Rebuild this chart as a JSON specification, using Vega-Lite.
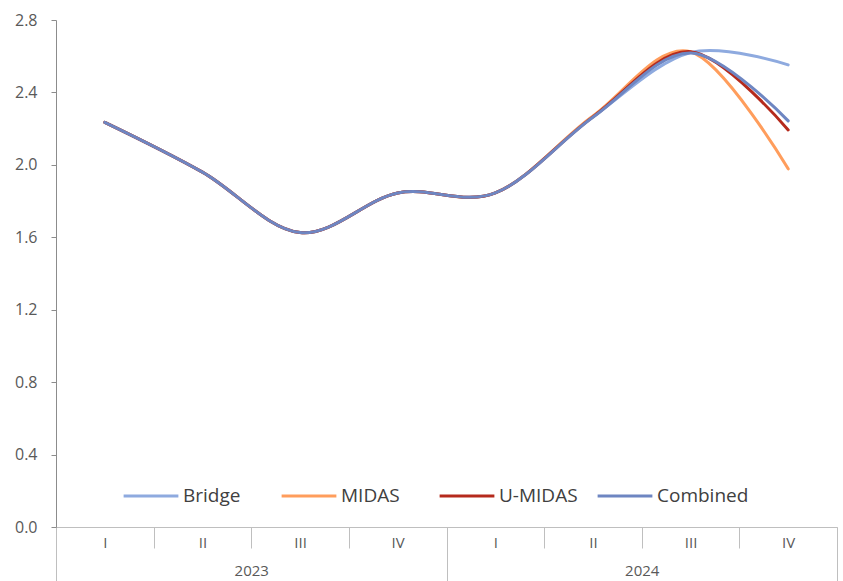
{
  "$schema": "https://vega.github.io/schema/vega-lite/v6.json",
  "autosize": {"type": "none"},
  "width": 781,
  "height": 507,
  "padding": {"left": 56, "top": 20, "right": 6, "bottom": 54},
  "background": "white",
  "config": {
    "view": {"stroke": null},
    "font": "Open Sans",
    "axis": {"labelFont": "Open Sans", "labelColor": "#595959", "labelFontSize": 15, "domainColor": "#8c8c8c", "tickColor": "#8c8c8c", "grid": false, "title": null}
  },
  "data": {
    "values": [
      {"t": 0.5, "series": "Bridge", "value": 2.235},
      {"t": 1.5, "series": "Bridge", "value": 1.96},
      {"t": 2.5, "series": "Bridge", "value": 1.626},
      {"t": 3.5, "series": "Bridge", "value": 1.845},
      {"t": 4.5, "series": "Bridge", "value": 1.845},
      {"t": 5.5, "series": "Bridge", "value": 2.265},
      {"t": 6.5, "series": "Bridge", "value": 2.62},
      {"t": 7.5, "series": "Bridge", "value": 2.552},
      {"t": 0.5, "series": "MIDAS", "value": 2.235},
      {"t": 1.5, "series": "MIDAS", "value": 1.96},
      {"t": 2.5, "series": "MIDAS", "value": 1.626},
      {"t": 3.5, "series": "MIDAS", "value": 1.845},
      {"t": 4.5, "series": "MIDAS", "value": 1.845},
      {"t": 5.5, "series": "MIDAS", "value": 2.27},
      {"t": 6.5, "series": "MIDAS", "value": 2.625},
      {"t": 7.5, "series": "MIDAS", "value": 1.978},
      {"t": 0.5, "series": "U-MIDAS", "value": 2.235},
      {"t": 1.5, "series": "U-MIDAS", "value": 1.96},
      {"t": 2.5, "series": "U-MIDAS", "value": 1.626},
      {"t": 3.5, "series": "U-MIDAS", "value": 1.845},
      {"t": 4.5, "series": "U-MIDAS", "value": 1.845},
      {"t": 5.5, "series": "U-MIDAS", "value": 2.265},
      {"t": 6.5, "series": "U-MIDAS", "value": 2.625},
      {"t": 7.5, "series": "U-MIDAS", "value": 2.193},
      {"t": 0.5, "series": "Combined", "value": 2.235},
      {"t": 1.5, "series": "Combined", "value": 1.96},
      {"t": 2.5, "series": "Combined", "value": 1.626},
      {"t": 3.5, "series": "Combined", "value": 1.845},
      {"t": 4.5, "series": "Combined", "value": 1.845},
      {"t": 5.5, "series": "Combined", "value": 2.263},
      {"t": 6.5, "series": "Combined", "value": 2.618},
      {"t": 7.5, "series": "Combined", "value": 2.243}
    ]
  },
  "resolve": {"axis": {"x": "independent"}},
  "layer": [
    {
      "mark": {"type": "line", "interpolate": "cardinal", "tension": 0, "strokeWidth": 3, "strokeCap": "round"},
      "encoding": {
        "x": {
          "field": "t", "type": "quantitative",
          "scale": {"domain": [0, 8], "nice": false, "zero": false},
          "axis": {"orient": "bottom", "values": [0, 1, 2, 3, 4, 5, 6, 7, 8], "tickSize": 21, "labelOffset": 48.8, "labelPadding": -13, "labelBaseline": "top",
                   "labelExpr": "['I','II','III','IV','I','II','III','IV',''][datum.value]", "labelFlush": false, "labelOverlap": false, "domainColor": "#bfbfbf", "tickColor": "#bfbfbf"}
        },
        "y": {
          "field": "value", "type": "quantitative",
          "scale": {"domain": [0, 2.8], "nice": false},
          "axis": {"values": [0, 0.4, 0.8, 1.2, 1.6, 2.0, 2.4, 2.8], "format": ".1f", "tickSize": 5, "labelPadding": 14, "labelFontSize": 16}
        },
        "color": {
          "field": "series", "type": "nominal",
          "scale": {"domain": ["Bridge", "MIDAS", "U-MIDAS", "Combined"], "range": ["#8eaadf", "#ff9d5c", "#b52a1c", "#6e86c2"]},
          "legend": {
            "title": null, "orient": "none", "legendX": 66, "legendY": 447, "direction": "horizontal", "columns": 4,
            "symbolType": "stroke", "symbolSize": 3000, "symbolStrokeWidth": 3, "labelFontSize": 19, "labelColor": "#404040",
            "labelFont": "Open Sans", "labelOffset": 3, "columnPadding": 0, "gridAlign": "all", "labelLimit": 200
          }
        },
        "order": {"field": "t"}
      }
    },
    {
      "mark": {"type": "line", "opacity": 0},
      "encoding": {
        "x": {
          "field": "t", "type": "quantitative",
          "axis": {"orient": "bottom", "values": [0, 4, 8], "tickSize": 54, "labelOffset": 195.25, "labelPadding": -18, "labelBaseline": "top", "domain": false,
                   "labelExpr": "datum.value == 0 ? '2023' : datum.value == 4 ? '2024' : ''", "labelFlush": false, "labelOverlap": false, "tickColor": "#bfbfbf"}
        },
        "y": {"field": "value", "type": "quantitative"},
        "detail": {"field": "series"}
      }
    }
  ]
}
